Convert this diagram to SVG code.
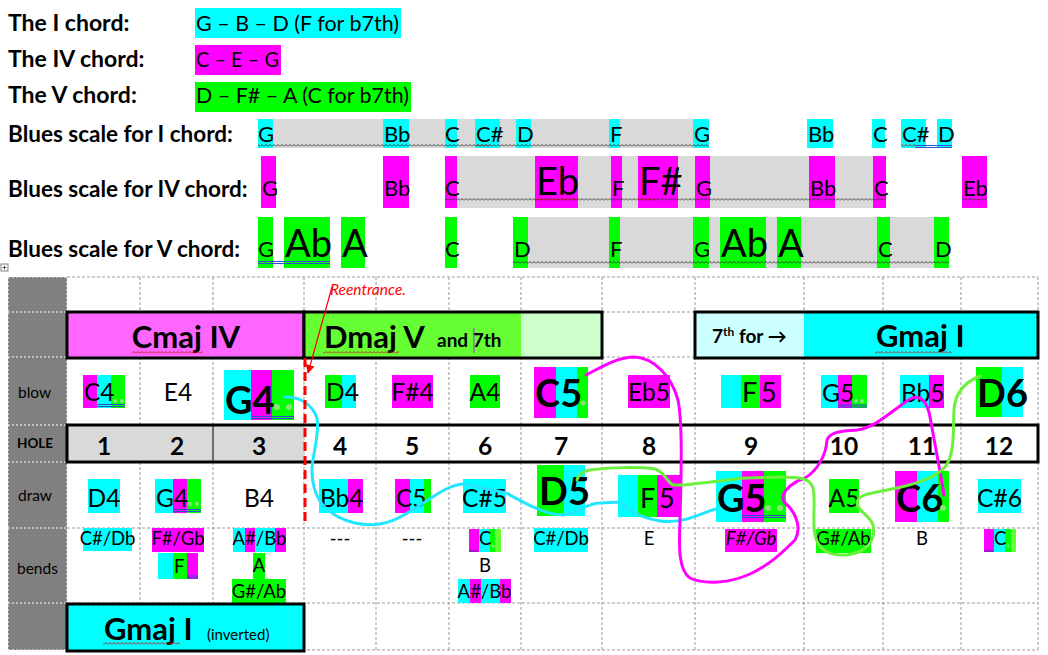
<svg xmlns="http://www.w3.org/2000/svg" width="1048" height="655" viewBox="0 0 1048 655">
<defs>
<style>
text{font-family:Lato,"Liberation Sans",Arial,sans-serif;fill:#000}
.h{font-weight:bold;font-size:23px}
.hb{font-weight:bold;font-size:22.5px}
.hl{font-size:21.5px}
.bs{font-size:22px}
.bb{font-size:38px}
.n{font-size:24.5px}
.nl{font-size:27px}
.big{font-size:38px;font-weight:bold}
.num{font-size:24.5px;font-weight:bold;text-anchor:middle}
.be{font-size:18.5px}
.side{font-size:15.5px}
.ch{font-size:31px;font-weight:bold}
.mid{text-anchor:middle}
.c{fill:#00ffff}.m{fill:#ff00ff}.g{fill:#00ff00}.lg{fill:#66ff33}.gr{fill:#d9d9d9}
.box{fill:none;stroke:#000;stroke-width:3}
.grid{stroke:#999;stroke-width:1;stroke-dasharray:3 2;fill:none}
.wgrid{stroke:#fff;stroke-width:1;stroke-dasharray:2 2;fill:none}
.dot{fill:#8be37a}
.du{stroke:#2e4fd0;stroke-width:1;fill:none}
.pu{stroke:#5a2a9a;stroke-width:1.2;fill:none}
.wk{fill:url(#wk)}
.wr{fill:url(#wr)}
.curve{fill:none;stroke-width:3;stroke-linecap:round;stroke-linejoin:round}
</style>
<pattern id="wk" width="4" height="3" patternUnits="userSpaceOnUse"><path d="M0,2.5 L2,0.5 L4,2.5" fill="none" stroke="#333" stroke-width="0.9"/></pattern>
<pattern id="wr" width="4" height="3" patternUnits="userSpaceOnUse"><path d="M0,2.5 L2,0.5 L4,2.5" fill="none" stroke="#d01010" stroke-width="0.9"/></pattern>
<marker id="arr" viewBox="0 0 10 10" refX="9" refY="5" markerWidth="9" markerHeight="9" markerUnits="userSpaceOnUse" orient="auto"><path d="M0,0 L10,5 L0,10 z" fill="#ff0000"/></marker>
</defs>
<rect width="1048" height="655" fill="#fff"/>

<g id="chord-legend">
<rect class="c" x="195" y="8" width="206" height="30"/>
<rect class="m" x="195" y="45" width="86" height="30"/>
<rect class="g" x="195" y="82" width="216" height="30"/>
<text class="h" x="8" y="31">The I chord:</text>
<text class="h" x="8" y="67">The IV chord:</text>
<text class="h" x="8" y="103">The V chord:</text>
<text class="hl" x="196" y="31" textLength="203" lengthAdjust="spacingAndGlyphs">G – B – D (F for b7th)</text>
<text class="hl" x="196" y="67" textLength="83" lengthAdjust="spacingAndGlyphs">C – E – G</text>
<text class="hl" x="196" y="103" textLength="213" lengthAdjust="spacingAndGlyphs">D – F# – A (C for b7th)</text>
</g>

<g id="blues-I">
<text class="hb" x="8" y="142">Blues scale for I chord:</text>
<rect class="gr" x="258" y="119" width="451" height="29"/>
<rect class="c" x="258" y="119" width="15" height="29"/>
<rect class="c" x="383" y="119" width="26" height="29"/>
<rect class="c" x="445" y="119" width="12" height="29"/>
<rect class="c" x="475" y="119" width="25" height="29"/>
<rect class="c" x="516" y="119" width="15" height="29"/>
<rect class="c" x="609" y="119" width="11" height="29"/>
<rect class="c" x="693" y="119" width="16" height="29"/>
<rect class="c" x="807" y="119" width="26" height="29"/>
<rect class="c" x="872" y="119" width="13" height="29"/>
<rect class="c" x="901" y="119" width="25" height="29"/>
<rect class="c" x="937" y="119" width="15" height="29"/>
<g class="bs">
<text x="258" y="142">G</text><text x="384" y="142">Bb</text><text x="445" y="142">C</text><text x="476" y="142">C#</text><text x="517" y="142">D</text><text x="610" y="142">F</text><text x="694" y="142">G</text><text x="808" y="142">Bb</text><text x="873" y="142">C</text><text x="902" y="142">C#</text><text x="938" y="142">D</text>
</g>
<rect class="wk" x="258" y="144" width="451" height="3"/>
<rect class="wr" x="476" y="144" width="14" height="3"/>
<rect class="wr" x="901" y="144" width="14" height="3"/>
<path class="du" d="M915,145.5 H952 M915,147.5 H952"/>
</g>

<g id="blues-IV">
<text class="hb" x="8" y="197">Blues scale for IV chord:</text>
<rect class="gr" x="445" y="156" width="441" height="52"/>
<rect class="m" x="261" y="156" width="15" height="52"/>
<rect class="m" x="383" y="156" width="26" height="52"/>
<rect class="m" x="445" y="156" width="12" height="52"/>
<rect class="m" x="535" y="156" width="43" height="52"/>
<rect class="m" x="611" y="156" width="11" height="52"/>
<rect class="m" x="638" y="156" width="40" height="52"/>
<rect class="m" x="695" y="156" width="15" height="52"/>
<rect class="m" x="809" y="156" width="26" height="52"/>
<rect class="m" x="873" y="156" width="13" height="52"/>
<rect class="m" x="962" y="156" width="25" height="52"/>
<g class="bs">
<text x="262" y="196">G</text><text x="384" y="196">Bb</text><text x="445" y="196">C</text><text x="612" y="196">F</text><text x="696" y="196">G</text><text x="810" y="196">Bb</text><text x="874" y="196">C</text><text x="963" y="196">Eb</text>
</g>
<text class="bb" x="536" y="195">Eb</text>
<text class="bb" x="639" y="195">F#</text>
<rect class="wk" x="445" y="198" width="441" height="3"/>
<rect class="wr" x="535" y="198" width="43" height="3"/>
<rect class="wr" x="638" y="198" width="17" height="3"/>
<rect class="wk" x="962" y="198" width="25" height="3"/>
</g>

<g id="blues-V">
<text class="hb" x="8" y="257">Blues scale for V chord:</text>
<rect class="gr" x="513" y="217" width="436" height="51"/>
<rect class="g" x="258" y="217" width="15" height="51"/>
<rect class="g" x="284" y="217" width="46" height="51"/>
<rect class="g" x="341" y="217" width="24" height="51"/>
<rect class="g" x="445" y="217" width="12" height="51"/>
<rect class="g" x="513" y="217" width="15" height="51"/>
<rect class="g" x="609" y="217" width="11" height="51"/>
<rect class="g" x="693" y="217" width="16" height="51"/>
<rect class="g" x="720" y="217" width="46" height="51"/>
<rect class="g" x="777" y="217" width="24" height="51"/>
<rect class="g" x="877" y="217" width="13" height="51"/>
<rect class="g" x="934" y="217" width="15" height="51"/>
<g class="bs">
<text x="258" y="257">G</text><text x="445" y="257">C</text><text x="514" y="257">D</text><text x="610" y="257">F</text><text x="694" y="257">G</text><text x="878" y="257">C</text><text x="935" y="257">D</text>
</g>
<text class="bb" x="285" y="257">Ab</text>
<text class="bb" x="342" y="257">A</text>
<text class="bb" x="721" y="257">Ab</text>
<text class="bb" x="778" y="257">A</text>
<rect class="wk" x="513" y="261" width="436" height="3"/>
<path class="du" d="M258,261.5 H330 M258,263.5 H330"/>
</g>

<g id="table-grid">
<rect x="1" y="264" width="7" height="7" fill="#fff" stroke="#666" stroke-width="0.8"/>
<path d="M4.5,265.5 V269.5 M2.5,267.5 H6.5" stroke="#333" stroke-width="0.8"/>
<rect x="8" y="277" width="59" height="373" fill="#808080"/>
<path class="wgrid" d="M8,277 H67 M8,312 H67 M8,357 H67 M8,425 H67 M8,462 H67 M8,528 H67 M8,603 H67 M8,650 H67 M8,277 V650 M67,277 V650"/>
<path class="grid" d="M67,277 H1038 M67,312 H1038 M67,357 H1038 M67,425 H1038 M67,462 H1038 M67,528 H1038 M67,603 H1038 M67,650 H1038 M140,277 V650 M213,277 V650 M304,277 V650 M376,277 V650 M449,277 V650 M521,277 V650 M602,277 V650 M695,277 V650 M804,277 V650 M883,277 V650 M961,277 V650 M1038,277 V650"/>
<text class="side" x="18" y="398">blow</text>
<text x="17" y="448" style="font-size:13.5px;font-weight:bold">HOLE</text>
<text class="side" x="18" y="501">draw</text>
<text class="side" x="17" y="574">bends</text>
</g>

<g id="chord-Cmaj">
<rect x="67" y="312" width="237" height="46" fill="#ff66ff"/>
<rect class="box" x="67" y="312" width="237" height="46"/>
<text class="ch mid" x="186" y="348">Cmaj IV</text>
<rect class="wr" x="132" y="351" width="71" height="3"/>
</g>

<g id="chord-Dmaj">
<rect x="304" y="312" width="217" height="46" fill="#66ff33"/>
<rect x="521" y="312" width="81" height="46" fill="#ccffcc"/>
<rect class="box" x="304" y="312" width="298" height="46"/>
<text class="ch" x="324" y="348">Dmaj V</text>
<text x="437" y="347" style="font-size:19px;font-weight:bold">and 7th</text>
<path d="M474,328 V353" stroke="#9933cc" stroke-width="1"/>
<rect class="wr" x="323" y="351" width="76" height="3"/>
</g>

<g id="chord-Gmaj">
<rect x="695" y="312" width="109" height="46" fill="#ccffff"/>
<rect x="804" y="312" width="234" height="46" fill="#00ffff"/>
<rect class="box" x="695" y="312" width="343" height="46"/>
<text x="712" y="343" style="font-size:19px;font-weight:bold">7<tspan dy="-7" style="font-size:12px">th</tspan><tspan dy="7"> for →</tspan></text>
<text class="ch" x="876" y="347">Gmaj I</text>
<rect class="wr" x="875" y="351" width="77" height="3"/>
</g>

<g id="hole-row">
<rect class="gr" x="67" y="425" width="237" height="37"/>
<path d="M213,425 V462" stroke="#000" stroke-width="1"/>
<rect class="box" x="67" y="425" width="971" height="37"/>
<text class="num" x="104" y="455">1</text>
<text class="num" x="177" y="455">2</text>
<text class="num" x="259" y="455">3</text>
<text class="num" x="340" y="455">4</text>
<text class="num" x="412" y="455">5</text>
<text class="num" x="485" y="455">6</text>
<text class="num" x="561" y="455">7</text>
<text class="num" x="649" y="455">8</text>
<text class="num" x="751" y="455">9</text>
<text class="num" x="844" y="455">10</text>
<text class="num" x="922" y="455">11</text>
<text class="num" x="999" y="455">12</text>
</g>

<g id="blow-row">
<rect class="m" x="83" y="375" width="14" height="33"/><rect class="c" x="97" y="375" width="14" height="33"/><rect class="g" x="111" y="375" width="14" height="33"/>
<text class="n" x="84" y="401">C4</text>
<circle class="dot" cx="115" cy="401" r="2"/><circle class="dot" cx="122" cy="401" r="2"/>
<path class="du" d="M97,404.5 H125 M97,406.5 H125"/>
<text class="n mid" x="178" y="401">E4</text>
<rect class="c" x="224" y="370" width="27" height="50"/><rect class="m" x="251" y="370" width="21" height="50"/><rect class="g" x="272" y="370" width="22" height="50"/>
<text class="big" x="225" y="414">G4</text>
<circle class="dot" cx="277" cy="407" r="3"/><circle class="dot" cx="289" cy="407" r="3"/>
<path class="du" d="M251,416.5 H294 M251,418.5 H294"/>
<rect class="g" x="325" y="375" width="17" height="33"/><rect class="c" x="342" y="375" width="14" height="33"/>
<text class="n" x="326" y="401">D4</text>
<rect class="m" x="392" y="375" width="41" height="33"/>
<text class="n mid" x="412.5" y="401">F#4</text>
<rect class="g" x="470" y="375" width="30" height="33"/>
<text class="n mid" x="485" y="401">A4</text>
<rect class="m" x="534" y="367" width="22" height="51"/><rect class="c" x="556" y="367" width="21" height="51"/><rect class="g" x="577" y="367" width="11" height="51"/>
<text class="big" x="535" y="407">C5</text>
<circle class="dot" cx="583" cy="403" r="2.5"/>
<rect class="m" x="628" y="375" width="42" height="33"/>
<text class="n mid" x="649" y="401">Eb5</text>
<rect class="c" x="721" y="375" width="20" height="33"/><rect class="g" x="741" y="375" width="19" height="33"/><rect class="m" x="760" y="375" width="21" height="33"/>
<text class="nl" x="742" y="402">F</text><text class="nl" x="761" y="402">5</text>
<rect class="c" x="821" y="375" width="17" height="33"/><rect class="m" x="838" y="375" width="14" height="33"/><rect class="g" x="852" y="375" width="15" height="33"/>
<text class="n" x="822" y="402">G5</text>
<circle class="dot" cx="856" cy="401" r="2"/><circle class="dot" cx="862" cy="401" r="2"/>
<path class="du" d="M838,405 H867 M838,407 H867"/>
<rect class="c" x="900" y="375" width="29" height="33"/><rect class="m" x="929" y="375" width="15" height="33"/>
<text class="n" x="901" y="402">Bb5</text>
<rect class="g" x="976" y="367" width="26" height="50"/><rect class="c" x="1002" y="367" width="21" height="50"/>
<text class="big" x="977" y="407">D6</text>
</g>

<g id="draw-row">
<rect class="c" x="88" y="479" width="32" height="34"/>
<text class="n mid" x="104" y="507">D4</text>
<rect class="c" x="155" y="479" width="18" height="34"/><rect class="m" x="173" y="479" width="14" height="34"/><rect class="g" x="187" y="479" width="14" height="34"/>
<text class="n" x="156" y="507">G4</text>
<circle class="dot" cx="190" cy="504" r="2"/><circle class="dot" cx="197" cy="504" r="2"/>
<path class="du" d="M173,509.5 H201 M173,511.5 H201"/>
<text class="n mid" x="259" y="507">B4</text>
<rect class="c" x="319" y="479" width="29" height="34"/><rect class="m" x="348" y="479" width="15" height="34"/>
<text class="n" x="320" y="507">Bb4</text>
<rect class="m" x="395" y="479" width="15" height="34"/><rect class="c" x="410" y="479" width="14" height="34"/><rect class="g" x="424" y="479" width="7" height="34"/>
<text class="n" x="396" y="507">C5</text>
<rect class="c" x="463" y="479" width="43" height="34"/>
<text class="n mid" x="484.5" y="507">C#5</text>
<rect class="g" x="537" y="465" width="27" height="51"/><rect class="c" x="564" y="465" width="21" height="51"/>
<text class="big" x="539" y="505">D5</text>
<rect class="c" x="618" y="475" width="20" height="42"/><rect class="g" x="638" y="475" width="19" height="42"/><rect class="m" x="657" y="475" width="23" height="42"/>
<text class="nl" x="640" y="508">F</text><text class="nl" x="659" y="508">5</text>
<rect class="c" x="716" y="471" width="26" height="51"/><rect class="m" x="742" y="471" width="22" height="51"/><rect class="g" x="764" y="471" width="22" height="51"/>
<text class="big" x="717" y="512">G5</text>
<circle class="dot" cx="768" cy="508" r="3"/><circle class="dot" cx="780" cy="508" r="3"/>
<path class="du" d="M742,515.5 H786 M742,517.5 H786"/>
<rect class="g" x="829" y="479" width="30" height="34"/>
<text class="n mid" x="844" y="507">A5</text>
<rect class="m" x="895" y="471" width="22" height="51"/><rect class="c" x="917" y="471" width="21" height="51"/><rect class="g" x="938" y="471" width="11" height="51"/>
<text class="big" x="896" y="512">C6</text>
<circle class="dot" cx="943" cy="508" r="3"/>
<rect class="c" x="978" y="479" width="43" height="34"/>
<text class="n mid" x="999.5" y="507">C#6</text>
</g>

<g id="bends-row">
<rect class="c" x="83" y="528" width="49" height="23"/>
<text class="be mid" x="107.5" y="545">C#/Db</text>
<rect class="m" x="152" y="528" width="52" height="24"/>
<text class="be mid" x="178" y="545">F#/Gb</text>
<rect class="c" x="158" y="553" width="15" height="26"/><rect class="g" x="173" y="553" width="14" height="26"/><rect class="m" x="187" y="553" width="11" height="26"/>
<text class="be" x="174" y="573">F</text>
<path class="du" d="M187,576 H198 M187,578 H198"/>
<rect class="c" x="233" y="528" width="12" height="24"/><rect class="m" x="245" y="528" width="10" height="24"/><rect class="c" x="255" y="528" width="20" height="24"/><rect class="m" x="275" y="528" width="11" height="24"/>
<text class="be mid" x="259.5" y="545">A#/Bb</text>
<rect class="g" x="253" y="553" width="12" height="26"/>
<text class="be mid" x="259" y="572">A</text>
<rect class="g" x="232" y="579" width="54" height="24"/>
<text class="be mid" x="259" y="598">G#/Ab</text>
<text class="be mid" x="340" y="545">---</text>
<text class="be mid" x="412" y="545">---</text>
<rect class="m" x="469" y="529" width="10" height="23"/><rect class="c" x="479" y="529" width="11" height="23"/><rect class="g" x="490" y="529" width="5" height="23"/><rect class="lg" x="495" y="529" width="6" height="23"/>
<text class="be" x="479" y="545">C</text>
<circle class="dot" cx="493" cy="546" r="1.5"/>
<path class="pu" d="M469,551 H478"/>
<text class="be mid" x="485" y="572">B</text>
<rect class="c" x="458" y="579" width="12" height="24"/><rect class="m" x="470" y="579" width="11" height="24"/><rect class="c" x="481" y="579" width="19" height="24"/><rect class="m" x="500" y="579" width="11" height="24"/>
<text class="be mid" x="484.5" y="598">A#/Bb</text>
<rect class="c" x="534" y="528" width="54" height="24"/>
<text class="be mid" x="561" y="545">C#/Db</text>
<text class="be mid" x="649" y="545">E</text>
<rect class="m" x="725" y="529" width="52" height="23"/>
<text class="be mid" x="751" y="545" style="font-style:italic">F#/Gb</text>
<rect class="g" x="816" y="529" width="55" height="24"/>
<text class="be mid" x="843.5" y="545">G#/Ab</text>
<text class="be mid" x="922" y="545">B</text>
<rect class="m" x="984" y="529" width="10" height="23"/><rect class="c" x="994" y="529" width="11" height="23"/><rect class="g" x="1005" y="529" width="6" height="23"/><rect class="lg" x="1011" y="529" width="5" height="23"/>
<text class="be" x="994" y="545">C</text>
<circle class="dot" cx="1008" cy="546" r="1.5"/>
<path class="pu" d="M984,551 H993"/>
</g>

<g id="chord-Gmaj-inverted">
<rect x="67" y="604" width="237" height="47" fill="#00ffff"/>
<rect class="box" x="67" y="604" width="237" height="47"/>
<text class="ch" x="104" y="640">Gmaj I</text>
<text x="207" y="640" style="font-size:15px">(inverted)</text>
<rect class="wr" x="103" y="642" width="77" height="3"/>
</g>

<g id="connectors">
<path class="curve" stroke="#22e6ff" d="M285,397 C300,397 312,404 317,418 C320,435 312,455 312,470 C312,495 322,515 355,523 C385,530 405,515 425,502 C440,492 452,484 465,484 L506,493 C525,503 545,515 563,515 C578,515 585,503 600,503 L620,502 C628,510 640,518 660,521 C685,524 700,513 716,509"/>
<path class="curve" stroke="#ff00ff" d="M586,375 C600,368 615,358 633,357 C655,357 672,378 678,400 C683,425 681,480 680,520 C679,545 678,570 690,578 C705,585 730,583 750,574 C770,565 785,550 795,540 C802,528 796,512 785,503 C778,495 790,483 805,478 C818,470 826,455 827,440 C830,432 840,431 857,430 C875,428 890,412 910,399 C922,393 928,405 930,417 C935,445 940,470 944,495"/>
<path class="curve" stroke="#6cf03c" d="M980,376 C965,382 955,392 954,410 C953,430 955,455 945,467 C935,478 915,485 887,490 C870,493 858,495 857,502 C856,510 870,515 873,525 C876,540 868,552 847,555 C830,556 818,550 815,535 C812,520 816,500 813,488 C810,478 800,477 780,477 L747,478 C730,479 700,484 680,485 L673,485 C667,482 665,472 655,469 C640,467 610,467 590,470 C580,472 578,476 577,480"/>
<path d="M305,358 V522" stroke="#ff0000" stroke-width="3" stroke-dasharray="9 5"/>
<path d="M332,287 L308,373" stroke="#ff0000" stroke-width="1.2" marker-end="url(#arr)"/>
<text x="330" y="295" style="font-size:15.5px;font-style:italic;fill:#ff0000">Reentrance.</text>
</g>
</svg>
